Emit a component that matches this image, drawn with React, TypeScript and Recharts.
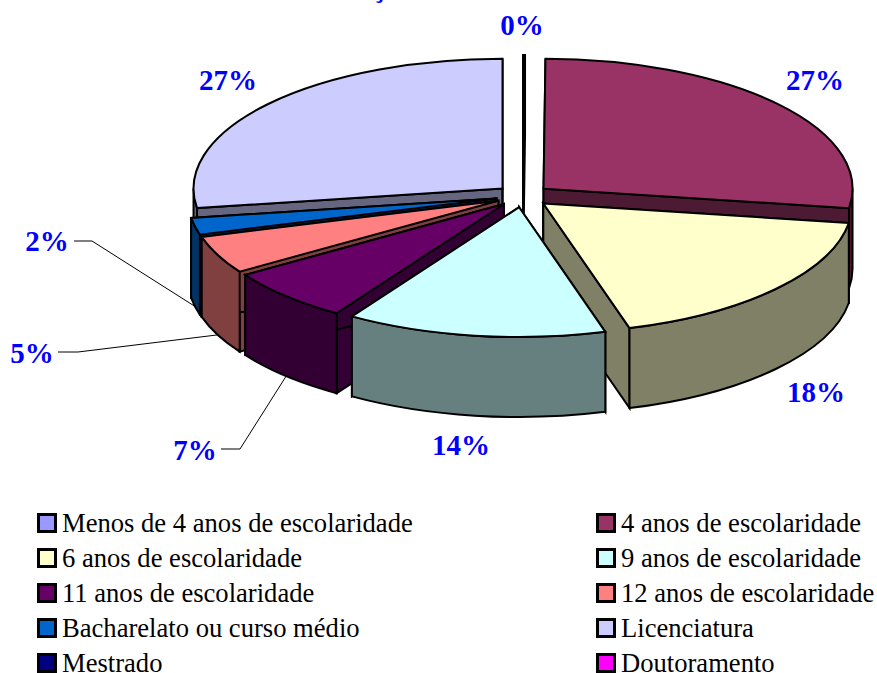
import { PieChart, Pie, Legend } from "recharts";

const categories = [
  "Menos de 4 anos de escolaridade",
  "4 anos de escolaridade",
  "6 anos de escolaridade",
  "9 anos de escolaridade",
  "11 anos de escolaridade",
  "12 anos de escolaridade",
  "Bacharelato ou curso médio",
  "Licenciatura",
  "Mestrado",
  "Doutoramento",
];
const shares = [0.1, 27.3, 18.1, 13.6, 6.7, 4.7, 2.1, 27.4, 0, 0];
const colors = [
  "#9999FF", "#993366", "#FFFFCC", "#CCFFFF", "#660066",
  "#FF8080", "#0066CC", "#CCCCFF", "#000080", "#FF00FF",
];

// back to front, recharts paints a Pie's sectors in data order so each slice gets its own Pie
const drawOrder = [7, 8, 9, 0, 1, 2, 6, 5, 4, 3];

const rows = categories.map((name, i) => ({ name, value: shares[i], fill: colors[i] }));

const CX = 523;
const CY = 196;
const RADIUS = 309;
const SQUASH = 0.42;
const DEPTH = 80;
const EXPLODE = 27;
const RAD = Math.PI / 180;

// label centre and optional leader elbow [x0, x1, y]
const labelSpots: Record<number, { x: number; y: number; elbow?: number[] }> = {
  0: { x: 522, y: 25 },
  1: { x: 815, y: 80 },
  2: { x: 816, y: 392 },
  3: { x: 461, y: 445 },
  4: { x: 195, y: 450, elbow: [221, 240, 449] },
  5: { x: 32, y: 353, elbow: [58, 78, 352] },
  6: { x: 47, y: 241, elbow: [74, 92, 241] },
  7: { x: 228, y: 80 },
};

function shade(hex: string) {
  const n = parseInt(hex.slice(1), 16);
  const half = (v: number) => Math.round(v / 2);
  return `rgb(${half(n >> 16)},${half((n >> 8) & 255)},${half(n & 255)})`;
}

function sliceOrigin(cx: number, cy: number, mid: number) {
  return {
    x: cx + EXPLODE * Math.cos(mid * RAD),
    y: cy - EXPLODE * SQUASH * Math.sin(mid * RAD),
  };
}

function Slice(props: any) {
  const { cx, cy, outerRadius: r, startAngle, endAngle, fill } = props;
  if (Math.abs(startAngle - endAngle) < 1e-6) return null;
  const o = sliceOrigin(cx, cy, (startAngle + endAngle) / 2);
  const ry = r * SQUASH;
  const at = (a: number) => ({
    x: o.x + r * Math.cos(a * RAD),
    y: o.y - ry * Math.sin(a * RAD),
  });
  const s = at(startAngle);
  const e = at(endAngle);
  const large = startAngle - endAngle > 180 ? 1 : 0;
  const top = `M${o.x},${o.y}L${s.x},${s.y}A${r},${ry} 0 ${large} 1 ${e.x},${e.y}Z`;
  const cut = (p: { x: number; y: number }) =>
    `M${o.x},${o.y}L${p.x},${p.y}L${p.x},${p.y + DEPTH}L${o.x},${o.y + DEPTH}Z`;

  // the front of the rim is the part below the ellipse's horizontal axis
  const walls: string[] = [];
  for (const [hi, lo] of [[0, -180], [360, 180]]) {
    const a0 = Math.min(startAngle, hi);
    const a1 = Math.max(endAngle, lo);
    if (a0 > a1) {
      const p = at(a0);
      const q = at(a1);
      walls.push(
        `M${p.x},${p.y}A${r},${ry} 0 0 1 ${q.x},${q.y}L${q.x},${q.y + DEPTH}A${r},${ry} 0 0 0 ${p.x},${p.y + DEPTH}Z`,
      );
    }
  }
  const dark = shade(fill);
  return (
    <g stroke="#000" strokeWidth={2} strokeLinejoin="miter">
      <path d={cut(s)} fill={dark} />
      <path d={cut(e)} fill={dark} />
      {walls.map((d) => (
        <path key={d} d={d} fill={dark} />
      ))}
      <path d={top} fill={fill} />
    </g>
  );
}

function sliceShape(layer: number) {
  return (props: any) => (props.index === layer ? <Slice {...props} /> : <g />);
}

function SliceLabel(props: any) {
  const { index, cx, cy, outerRadius: r, midAngle, value } = props;
  const spot = labelSpots[index];
  if (!spot) return <g />;
  let leader = null;
  if (spot.elbow) {
    const o = sliceOrigin(cx, cy, midAngle);
    const tipX = o.x + r * Math.cos(midAngle * RAD);
    const tipY = o.y - r * SQUASH * Math.sin(midAngle * RAD) + DEPTH;
    const [x0, x1, y] = spot.elbow;
    leader = (
      <polyline points={`${x0},${y} ${x1},${y} ${tipX},${tipY}`} fill="none" stroke="#000" strokeWidth={1} />
    );
  }
  return (
    <g>
      {leader}
      <text
        x={spot.x}
        y={spot.y}
        textAnchor="middle"
        dominantBaseline="central"
        fontFamily="Liberation Serif"
        fontWeight="bold"
        fontSize={29}
        fill="#0000FF"
      >
        {Math.round(value)}%
      </text>
    </g>
  );
}

function LegendGrid({ payload }: any) {
  return (
    <div
      style={{
        display: "grid",
        gridTemplateColumns: "559px 1fr",
        gridAutoRows: "35px",
        paddingLeft: 37,
        fontFamily: "Liberation Serif",
        fontSize: 26.6,
        color: "#000",
      }}
    >
      {(payload ?? []).map((item: any) => (
        <div key={item.value} style={{ display: "flex", alignItems: "center", whiteSpace: "nowrap" }}>
          <span
            style={{
              width: 14,
              height: 14,
              border: "3px solid #000",
              background: item.color,
              marginRight: 5,
              flex: "none",
            }}
          />
          <span style={{ position: "relative", top: 1 }}>{item.value}</span>
        </div>
      ))}
    </div>
  );
}

export default function App() {
  const lastLayer = drawOrder[drawOrder.length - 1];
  return (
    <div style={{ position: "absolute", left: 0, top: 0, width: 877, height: 673, overflow: "hidden" }}>
      <PieChart width={877} height={673} margin={{ top: 0, right: 0, bottom: 0, left: 0 }}>
        {/* only the cedilla of the cropped title is left at the top edge */}
        <text x={379} y={-3} textAnchor="middle" fontFamily="Liberation Serif" fontWeight="bold" fontSize={29} fill="#0000FF">
          ç
        </text>
        {drawOrder.map((layer) => (
          <Pie
            key={layer}
            data={rows}
            dataKey="value"
            nameKey="name"
            cx={CX}
            cy={CY}
            innerRadius={0}
            outerRadius={RADIUS}
            startAngle={90}
            endAngle={-270}
            stroke="none"
            shape={sliceShape(layer)}
            label={layer === lastLayer ? SliceLabel : false}
            labelLine={false}
            legendType={layer === lastLayer ? "square" : "none"}
            isAnimationActive={false}
          />
        ))}
        <Legend
          content={LegendGrid}
          itemSorter={null}
          wrapperStyle={{ position: "absolute", left: 0, top: 505, width: 877, height: 168 }}
        />
      </PieChart>
    </div>
  );
}
